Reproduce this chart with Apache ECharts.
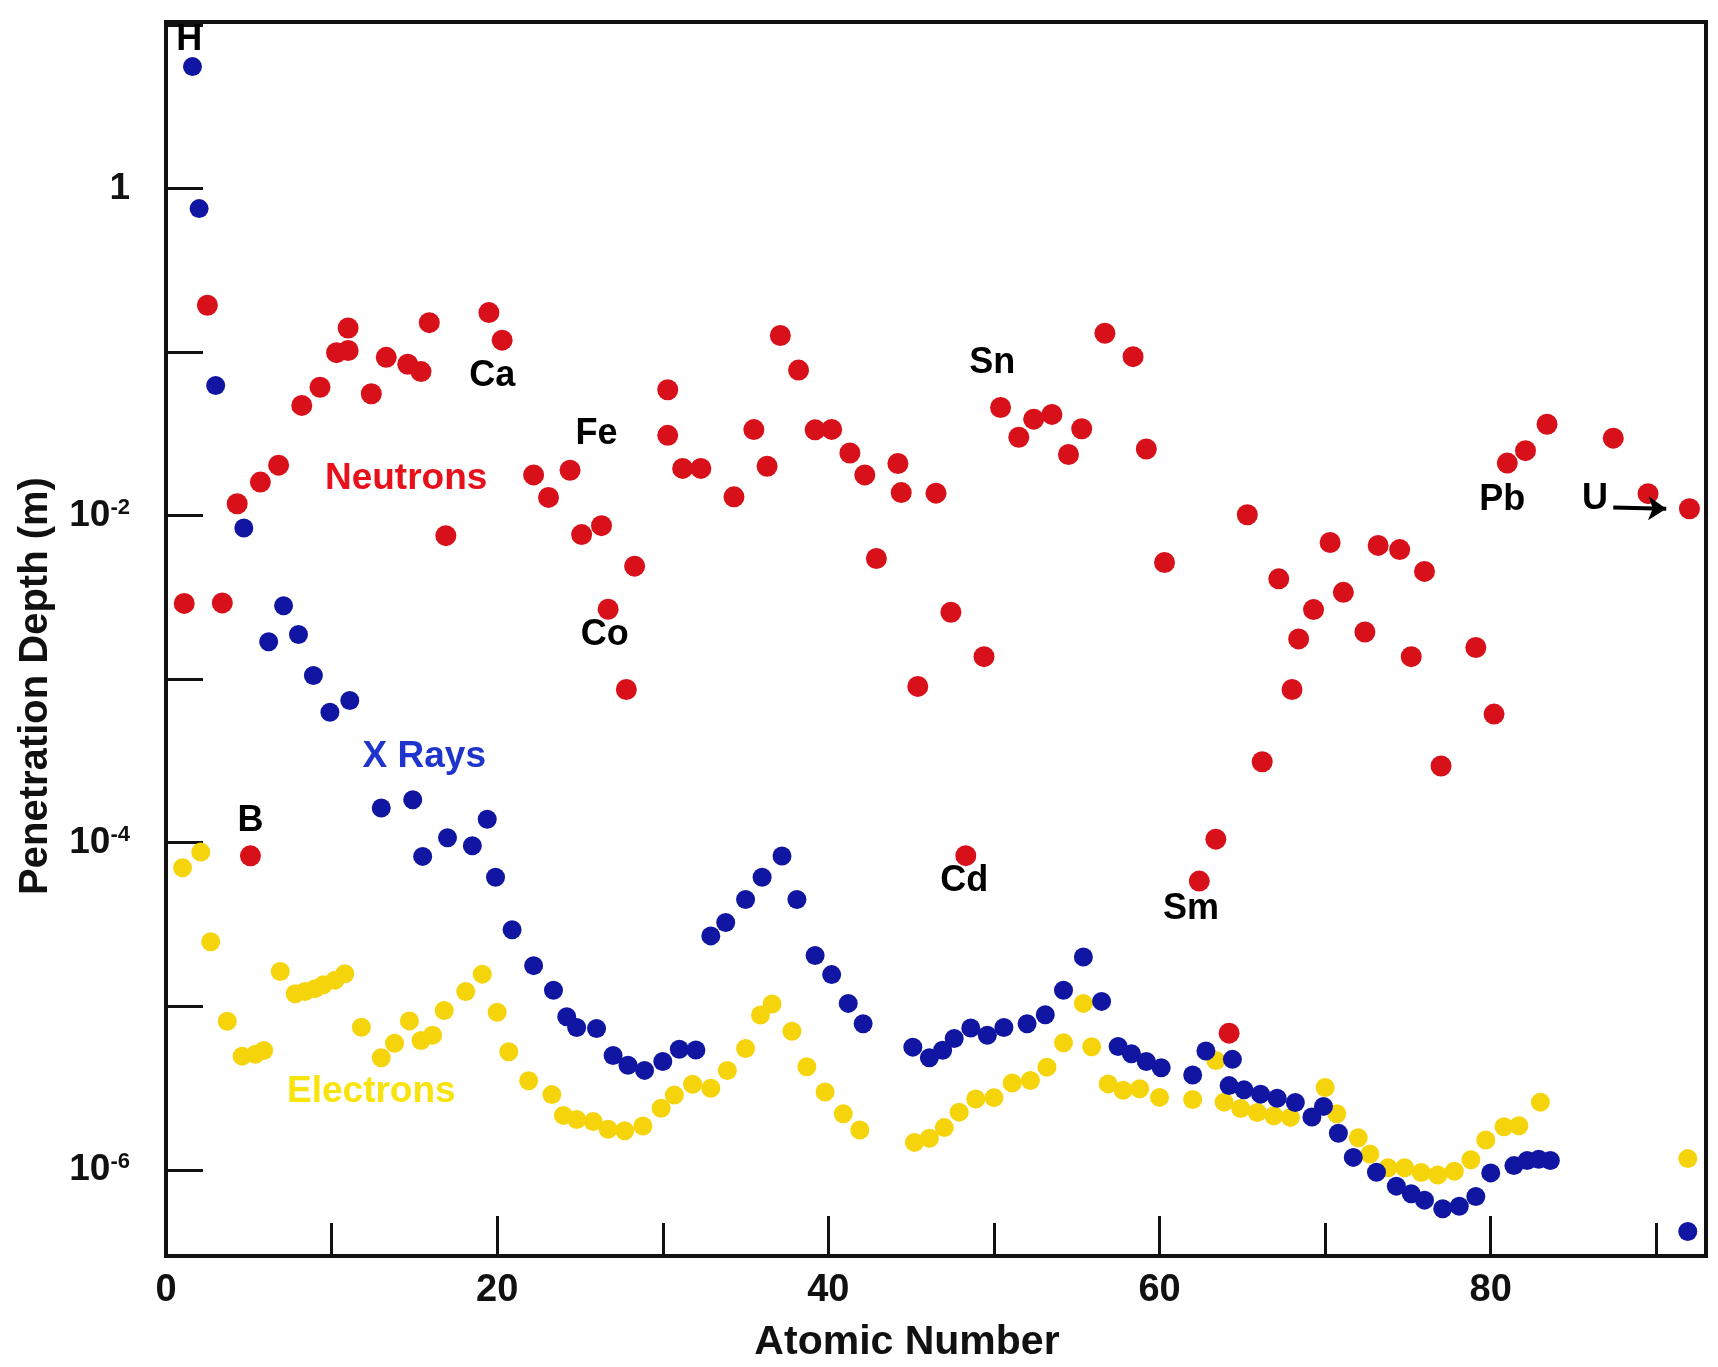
<!DOCTYPE html>
<html>
<head>
<meta charset="utf-8">
<script src="https://cdn.jsdelivr.net/npm/echarts/dist/echarts.min.js"></script>
<style>
html,body{margin:0;padding:0;background:#ffffff;}
#chart{width:1718px;height:1367px;}
</style>
</head>
<body>
<div id="chart"></div>
<script>
// ---- Data: atomic number (as plotted) and penetration depth (m) ----
const neutronZ = [1.1,2.5,3.4,4.3,5.1,5.7,6.8,8.2,9.3,10.3,11.0,11.0,12.4,13.3,14.6,15.4,15.9,16.9,19.5,20.3,22.2,23.1,24.4,25.1,26.3,26.7,27.8,28.3,30.3,30.3,31.2,32.3,34.3,35.5,36.3,37.1,38.2,39.2,40.2,41.3,42.2,42.9,44.2,44.4,45.4,46.5,47.4,48.3,49.4,50.4,51.5,52.4,53.5,54.5,55.3,56.7,58.4,59.2,60.3,62.4,63.4,64.2,65.3,66.2,67.2,68.0,68.4,69.3,70.3,71.1,72.4,73.2,74.5,75.2,76.0,77.0,79.1,80.2,81.0,82.1,83.4,87.4,89.5,92.0];
const neutronDepth = [2.9e-3,0.193,2.92e-3,1.18e-2,8.3e-5,1.60e-2,2.03e-2,4.71e-2,6.08e-2,9.9e-2,0.140,0.102,5.55e-2,9.27e-2,8.41e-2,7.58e-2,0.151,7.53e-3,0.174,0.118,1.77e-2,1.29e-2,1.89e-2,7.64e-3,8.67e-3,2.67e-3,8.63e-4,4.90e-3,5.87e-2,3.09e-2,1.94e-2,1.94e-2,1.30e-2,3.35e-2,2.00e-2,0.126,7.74e-2,3.34e-2,3.36e-2,2.41e-2,1.77e-2,5.46e-3,2.08e-2,1.38e-2,9.02e-4,1.37e-2,2.56e-3,8.32e-5,1.37e-3,4.57e-2,3.01e-2,3.88e-2,4.15e-2,2.36e-2,3.39e-2,0.130,9.35e-2,2.55e-2,5.16e-3,5.82e-5,1.05e-4,6.84e-6,1.01e-2,3.12e-4,4.10e-3,8.63e-4,1.76e-3,2.66e-3,6.84e-3,3.39e-3,1.94e-3,6.56e-3,6.19e-3,1.37e-3,4.55e-3,2.94e-4,1.56e-3,6.11e-4,2.09e-2,2.49e-2,3.61e-2,2.97e-2,1.36e-2,1.10e-2];

const xrayZ = [1.6,2.0,3.0,4.7,6.2,7.1,8.0,8.9,9.9,11.1,13.0,14.9,15.5,17.0,18.5,19.4,19.9,20.9,22.2,23.4,24.2,24.8,26.0,27.0,27.9,28.9,30.0,31.0,32.0,32.9,33.8,35.0,36.0,37.2,38.1,39.2,40.2,41.2,42.1,45.1,46.1,46.9,47.6,48.6,49.6,50.6,52.0,53.1,54.2,55.4,56.5,57.5,58.3,59.2,60.1,62.0,62.8,64.2,64.4,65.1,66.1,67.1,68.2,69.2,69.9,70.8,71.7,73.1,74.3,75.2,76.0,77.1,78.1,79.1,80.0,81.4,82.2,82.9,83.6,91.9];
const xrayDepth = [5.55,0.752,6.23e-2,8.39e-3,1.69e-3,2.81e-3,1.87e-3,1.05e-3,6.27e-4,7.40e-4,1.63e-4,1.83e-4,8.24e-5,1.07e-4,9.58e-5,1.39e-4,6.14e-5,2.93e-5,1.77e-5,1.25e-5,8.63e-6,7.40e-6,7.30e-6,5.00e-6,4.35e-6,4.05e-6,4.59e-6,5.45e-6,5.40e-6,2.69e-5,3.25e-5,4.49e-5,6.14e-5,8.28e-5,4.49e-5,2.04e-5,1.56e-5,1.04e-5,7.82e-6,5.62e-6,4.84e-6,5.38e-6,6.34e-6,7.36e-6,6.65e-6,7.41e-6,7.82e-6,8.87e-6,1.25e-5,2.00e-5,1.07e-5,5.67e-6,5.12e-6,4.59e-6,4.20e-6,3.80e-6,5.32e-6,3.27e-6,4.73e-6,3.08e-6,2.90e-6,2.74e-6,2.58e-6,2.10e-6,2.44e-6,1.67e-6,1.19e-6,9.66e-7,7.94e-7,7.13e-7,6.52e-7,5.78e-7,5.98e-7,6.87e-7,9.57e-7,1.06e-6,1.14e-6,1.16e-6,1.14e-6,4.19e-7];

const electronZ = [1.0,2.1,2.7,3.7,4.6,5.4,5.9,6.9,7.8,8.4,9.0,9.5,10.2,10.8,11.8,13.0,13.8,14.7,15.4,16.1,16.8,18.1,19.1,20.0,20.7,21.9,23.3,24.0,24.8,25.8,26.7,27.7,28.8,29.9,30.7,31.8,32.9,33.9,35.0,35.9,36.6,37.8,38.7,39.8,40.9,41.9,45.2,46.1,47.0,47.9,48.9,50.0,51.1,52.2,53.2,54.2,55.4,55.9,56.9,57.8,58.8,60.0,62.0,63.4,63.9,64.9,65.9,66.9,67.9,70.0,70.7,72.0,72.7,73.8,74.8,75.8,76.8,77.8,78.8,79.7,80.8,81.7,83.0,91.9];
const electronDepth = [7.03e-5,8.75e-5,2.48e-5,8.09e-6,4.95e-6,5.09e-6,5.36e-6,1.63e-5,1.19e-5,1.23e-5,1.28e-5,1.35e-5,1.44e-5,1.58e-5,7.43e-6,4.84e-6,5.94e-6,8.13e-6,6.17e-6,6.64e-6,9.42e-6,1.23e-5,1.57e-5,9.18e-6,5.27e-6,3.50e-6,2.88e-6,2.15e-6,2.03e-6,1.97e-6,1.77e-6,1.73e-6,1.85e-6,2.38e-6,2.86e-6,3.33e-6,3.15e-6,4.04e-6,5.51e-6,8.83e-6,1.03e-5,7.03e-6,4.26e-6,2.99e-6,2.20e-6,1.75e-6,1.47e-6,1.56e-6,1.81e-6,2.25e-6,2.71e-6,2.76e-6,3.39e-6,3.51e-6,4.24e-6,5.97e-6,1.04e-5,5.65e-6,3.35e-6,3.06e-6,3.13e-6,2.77e-6,2.69e-6,4.66e-6,2.59e-6,2.37e-6,2.24e-6,2.14e-6,2.09e-6,3.18e-6,2.20e-6,1.57e-6,1.25e-6,1.03e-6,1.03e-6,9.62e-7,9.29e-7,9.79e-7,1.15e-6,1.52e-6,1.83e-6,1.86e-6,2.59e-6,1.17e-6];

// tick labels
const xTickLabels = [0, 20, 40, 60, 80];
const yLabelExponents = [0, -2, -4, -6];

// annotations (element names and series names) in data coordinates
const elementLabels = ['H', 'B', 'Ca', 'Fe', 'Co', 'Sn', 'Cd', 'Sm', 'Pb', 'U'];
const elementLabelZ = [1.4, 5.1, 19.7, 26.0, 26.5, 49.9, 48.2, 61.9, 80.7, 86.3];
const elementLabelDepth = [8.1, 1.36e-4, 7.1e-2, 3.16e-2, 1.85e-3, 8.6e-2, 5.8e-5, 3.9e-5, 1.24e-2, 1.26e-2];
const seriesNames = ['Neutrons', 'X Rays', 'Electrons'];
const seriesLabelZ = [14.5, 15.6, 12.4];
const seriesLabelDepth = [1.67e-2, 3.33e-4, 3.0e-6];
const arrowZ = [87.4, 90.6];
const arrowDepth = [1.12e-2, 1.10e-2];

// ---- Styles ----
const FONT = "'Liberation Sans', Arial, Helvetica, sans-serif";
const dotColors = ['#d8101a', '#1016a2', '#f6d40c'];
const textColors = ['#e8101a', '#1f34cc', '#f8e40c'];

function pairs(xs, ys) { return xs.map((x, i) => [x, ys[i]]); }

const chart = echarts.init(document.getElementById('chart'), null, { renderer: 'canvas' });

const labelBase = { show: true, position: 'inside', formatter: '{b}', fontFamily: FONT,
  textBorderWidth: 0, textBorderColor: 'transparent', textShadowBlur: 0, opacity: 1 };

const annotationData = elementLabels.map((t, i) => ({
  name: t,
  value: [elementLabelZ[i], elementLabelDepth[i]],
  label: Object.assign({}, labelBase, { color: '#000000', fontSize: 36, fontWeight: 'bold' })
})).concat(seriesNames.map((t, i) => ({
  name: t,
  value: [seriesLabelZ[i], seriesLabelDepth[i]],
  label: Object.assign({}, labelBase, { color: textColors[i], fontSize: 37, fontWeight: 'bold' })
})));

chart.setOption({
  animation: false,
  backgroundColor: '#ffffff',
  textStyle: { fontFamily: FONT },
  grid: {
    left: 166, top: 22, width: 1540, height: 1234,
    show: true, borderColor: '#111111', borderWidth: 4,
    backgroundColor: 'transparent',
    containLabel: false,
    outerBoundsMode: 'none'
  },
  xAxis: {
    type: 'value',
    min: 0, max: 93, interval: 20,
    name: 'Atomic Number',
    nameLocation: 'middle',
    nameGap: 66,
    nameTextStyle: { fontSize: 41, fontWeight: 'bold', color: '#111111', fontFamily: FONT, padding: [0, 58, 0, 0] },
    axisLine: { show: true, onZero: false, lineStyle: { color: '#111111', width: 4 } },
    axisTick: { show: true, inside: true, length: 40, lineStyle: { color: '#111111', width: 3 } },
    minorTick: { show: true, splitNumber: 2, length: 33, lineStyle: { color: '#111111', width: 3 } },
    axisLabel: {
      show: true, margin: 16, fontSize: 38, fontWeight: 'bold', color: '#111111', fontFamily: FONT,
      formatter: function (v) { return xTickLabels.indexOf(v) >= 0 ? String(v) : ''; }
    },
    splitLine: { show: false }
  },
  yAxis: {
    type: 'log',
    logBase: 10,
    min: 2.97e-7, max: 10.4,
    name: 'Penetration Depth (m)',
    nameLocation: 'middle',
    nameGap: 110,
    nameRotate: 90,
    nameTextStyle: { fontSize: 40, fontWeight: 'bold', color: '#111111', fontFamily: FONT, padding: [0, 94, 0, 0] },
    axisLine: { show: true, onZero: false, lineStyle: { color: '#111111', width: 4 } },
    axisTick: { show: true, inside: true, length: 37, lineStyle: { color: '#111111', width: 3 } },
    axisLabel: {
      show: true, margin: 36, fontSize: 37, fontWeight: 'bold', color: '#111111', fontFamily: FONT,
      formatter: function (v) {
        const e = Math.log10(v);
        const r = Math.round(e);
        if (Math.abs(e - r) > 1e-6) return '';
        if (yLabelExponents.indexOf(r) < 0) return '';
        if (r === 0) return '1';
        return '10{sup|' + r + '}';
      },
      rich: {
        sup: { fontSize: 22, fontWeight: 'bold', color: '#111111', fontFamily: FONT, verticalAlign: 'top' }
      }
    },
    splitLine: { show: false }
  },
  series: [
    {
      name: 'Electrons', type: 'scatter', z: 2,
      symbol: 'circle', symbolSize: 19,
      itemStyle: { color: dotColors[2], opacity: 1 },
      data: pairs(electronZ, electronDepth)
    },
    {
      name: 'X Rays', type: 'scatter', z: 3,
      symbol: 'circle', symbolSize: 19,
      itemStyle: { color: dotColors[1], opacity: 1 },
      data: pairs(xrayZ, xrayDepth)
    },
    {
      name: 'Neutrons', type: 'scatter', z: 4,
      symbol: 'circle', symbolSize: 21,
      itemStyle: { color: dotColors[0], opacity: 1 },
      data: pairs(neutronZ, neutronDepth)
    },
    {
      name: 'annotations', type: 'scatter', z: 5, silent: true,
      symbol: 'circle', symbolSize: 1,
      itemStyle: { color: '#ffffff', opacity: 0 },
      emphasis: { disabled: true },
      label: labelBase,
      data: annotationData,
      markLine: {
        silent: true,
        symbol: ['none', 'arrow'],
        symbolSize: 18,
        label: { show: false },
        emphasis: { disabled: true },
        lineStyle: { color: '#000000', width: 4, type: 'solid', opacity: 1 },
        data: [[{ coord: [arrowZ[0], arrowDepth[0]] }, { coord: [arrowZ[1], arrowDepth[1]] }]]
      }
    }
  ]
});
</script>
</body>
</html>
